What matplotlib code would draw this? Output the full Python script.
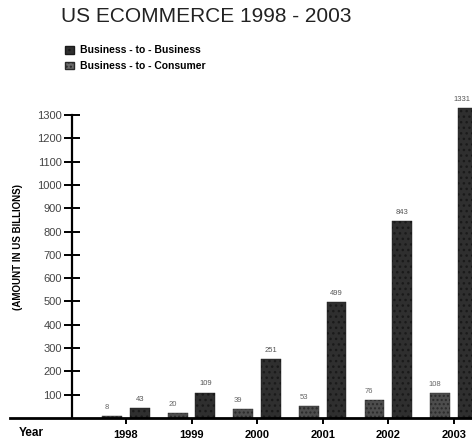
import matplotlib
matplotlib.use("Agg")
import matplotlib.pyplot as plt
import matplotlib.transforms as mtransforms
from matplotlib.patches import Patch
import numpy as np

plt.rcParams["font.family"] = ["Liberation Sans", "DejaVu Sans"]

years = ["1998", "1999", "2000", "2001", "2002", "2003"]
b2c = [8, 20, 39, 53, 76, 108]
b2b = [43, 109, 251, 499, 843, 1331]
y_ticks = list(range(100, 1400, 100))

fig = plt.figure(figsize=(4.72, 4.41), dpi=100)
ax = fig.add_axes([10 / 472, 23 / 441, 462 / 472, 338 / 441])

x = np.arange(len(years))
w = 0.3
off = 0.21
ax.bar(x - off, b2c, w, color="#4d4d4d", edgecolor="#2a2a2a",
       hatch="....", linewidth=0.3, zorder=2)
ax.bar(x + off, b2b, w, color="#2f2f2f", edgecolor="#1a1a1a",
       hatch="...", linewidth=0.3, zorder=2)

for xi, v in zip(x, b2c):
    ax.text(xi - off - 0.08, v + 22, str(v), ha="center", va="bottom",
            fontsize=5.5, color="#666666")
for i, (xi, v) in enumerate(zip(x, b2b)):
    # last label sits at the right edge of the picture
    shift = -0.08 if i == len(b2b) - 1 else 0
    ax.text(xi + off + shift, v + 22, str(v), ha="center", va="bottom",
            fontsize=5.5, color="#555555")

ax.set_xlim(-1.77, 5.28)
ax.set_ylim(0, 1450)

for s in ["top", "right"]:
    ax.spines[s].set_visible(False)
ax.spines["left"].set_position(("data", -0.82))
ax.spines["left"].set_bounds(0, 1300)
ax.spines["left"].set_linewidth(1.6)
ax.spines["bottom"].set_linewidth(2.0)

ax.set_yticks(y_ticks)
ax.set_yticklabels([str(t) for t in y_ticks], fontsize=8, color="#444444")
ax.tick_params(axis="y", direction="inout", length=11, width=1.4, pad=2)

ax.set_xticks(x)
ax.set_xticklabels(years, fontsize=8, fontweight="bold")
ax.tick_params(axis="x", direction="out", length=4, width=1.4, pad=5)

trans = mtransforms.blended_transform_factory(ax.transData, ax.transAxes)
ax.text(-1.45, -0.026, "Year", transform=trans, ha="center", va="top",
        fontsize=8.5, fontweight="bold")

fig.text(18 / 472, 1 - 247 / 441, "(AMOUNT IN US BILLIONS)", rotation=90,
         ha="center", va="center", fontsize=7, fontweight="bold")

fig.text(206 / 472, 1 - 16 / 441, "US ECOMMERCE 1998 - 2003", ha="center",
         va="center", fontsize=15, color="#222222")

handles = [
    Patch(facecolor="#2f2f2f", edgecolor="#1a1a1a", hatch="..."),
    Patch(facecolor="#6a6a6a", edgecolor="#2a2a2a", hatch="...."),
]
fig.legend(handles, ["Business - to - Business", "Business - to - Consumer"],
           loc="upper left", bbox_to_anchor=(56 / 472, 1 - 36 / 441),
           frameon=False, handlelength=0.8, handleheight=0.8,
           handletextpad=0.6, labelspacing=0.55,
           prop={"size": 7.5, "weight": "bold"})

fig.savefig("out.png", dpi=100, facecolor="white")
